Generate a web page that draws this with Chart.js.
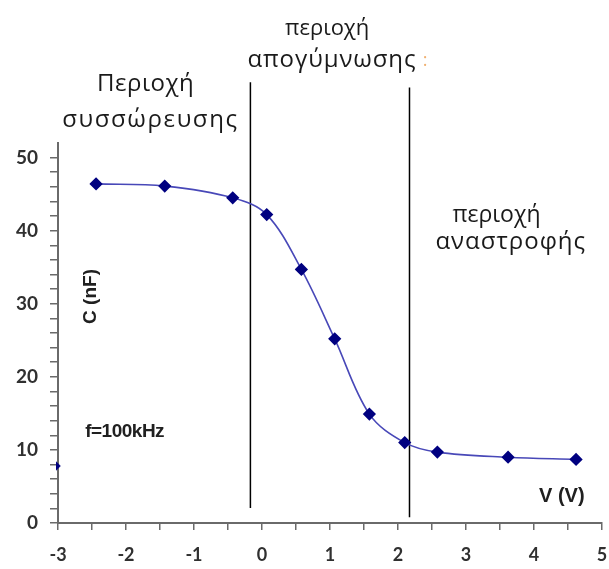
<!DOCTYPE html>
<html>
<head>
<meta charset="utf-8">
<script src="https://cdn.jsdelivr.net/npm/chart.js@4"></script>
<style>
  body { margin: 0; background: #fff; }
  canvas { display: block; }
</style>
</head>
<body>
<canvas id="cvChart" width="609" height="569"></canvas>
<script>
// Measured C-V curve (f = 100 kHz)
const voltage = [-2.44, -1.43, -0.43, 0.07, 0.58, 1.07, 1.58, 2.10, 2.58, 3.62, 4.62];
const capacitance = [46.4, 46.1, 44.5, 42.2, 34.7, 25.2, 14.9, 11.0, 9.7, 9.0, 8.7];

// stray point cut off at the left edge
const strayVoltage = [-3.04];
const strayCapacitance = [7.8];

// region boundaries (V) and their extent in C
const boundaryVoltage = [-0.17, 2.17];
const boundaryBottom = [2.05, 0.8];
const boundaryTop = [60.3, 59.6];

const xTicks = [-3, -2.5, -2, -1.5, -1, -0.5, 0, 0.5, 1, 1.5, 2, 2.5, 3, 3.5, 4, 4.5, 5];
const yTicks = [0, 2, 4, 6, 8, 10, 12, 14, 16, 18, 20, 22, 24, 26, 28, 30, 32, 34, 36, 38, 40, 42, 44, 46, 48, 50];

const regionLabels = ["Περιοχή", "συσσώρευσης", "περιοχή", "απογύμνωσης", "περιοχή", "αναστροφής"];
const yTitle = "C (nF)";
const xTitle = "V (V)";
const freqLabel = "f=100kHz";

const curve = voltage.map((v, i) => ({ x: v, y: capacitance[i] }));
const stray = strayVoltage.map((v, i) => ({ x: v, y: strayCapacitance[i] }));
const boundaries = boundaryVoltage.map((v, i) => ({
    data: [{ x: v, y: boundaryBottom[i] }, { x: v, y: boundaryTop[i] }],
    borderColor: "#000",
    borderWidth: 1.5,
    pointRadius: 0,
    showLine: true,
    clip: false,
}));

const greek = "'Open Sans', 'Noto Sans', sans-serif";
const boldFont = "'Liberation Sans', Arial, sans-serif";

// text annotations, placed in data coordinates
const notesPlugin = {
    id: "notes",
    afterDatasetsDraw(chart) {
        const { ctx, scales: { x, y } } = chart;
        const put = (text, vx, vy, font, color, spacing = 0, align = "center") => {
            ctx.font = font;
            ctx.fillStyle = color;
            ctx.textAlign = align;
            ctx.textBaseline = "middle";
            ctx.letterSpacing = spacing + "px";
            ctx.fillText(text, x.getPixelForValue(vx), y.getPixelForValue(vy));
            ctx.letterSpacing = "0px";
        };
        ctx.save();
        const txt = "#1a1a1a";
        put(regionLabels[0], -1.71, 60.1, `24px ${greek}`, txt, 0.5);
        put(regionLabels[1], -1.64, 55.1, `24px ${greek}`, txt, 1.6);
        put(regionLabels[2], 0.96, 67.6, `22px ${greek}`, txt);
        put(regionLabels[3], 1.03, 63.3, `24px ${greek}`, txt, 0.9);
        put(":", 2.40, 63.3, `18px ${greek}`, "#f0b070");
        put(regionLabels[4], 3.45, 42.1, `23px ${greek}`, txt);
        put(regionLabels[5], 3.66, 38.4, `24px ${greek}`, txt, 1);
        put(freqLabel, -2.6, 12.5, `bold 19px ${boldFont}`, "#202020", -0.5, "left");
        put(xTitle, 4.41, 3.6, `bold 20px ${boldFont}`, "#202020");

        ctx.translate(x.getPixelForValue(-2.52), y.getPixelForValue(31.0));
        ctx.rotate(-Math.PI / 2);
        ctx.font = `bold 19px ${boldFont}`;
        ctx.fillStyle = "#202020";
        ctx.textAlign = "center";
        ctx.textBaseline = "middle";
        ctx.fillText(yTitle, 0, 0);
        ctx.restore();
    },
};

new Chart(document.getElementById("cvChart"), {
    type: "scatter",
    data: {
        datasets: [
            {
                data: curve,
                showLine: true,
                tension: 0.35,
                borderColor: "#4848b8",
                borderWidth: 1.6,
                pointStyle: "rectRot",
                pointRadius: 5.5,
                pointBackgroundColor: "#000080",
                pointBorderColor: "#000080",
            },
            {
                data: stray,
                pointStyle: "rectRot",
                pointRadius: 5,
                pointBackgroundColor: "#000080",
                pointBorderColor: "#000080",
                clip: { left: 2, top: 0, right: 0, bottom: 0 },
            },
            ...boundaries,
        ],
    },
    options: {
        responsive: false,
        animation: false,
        layout: { padding: { top: 143, right: 6, left: 0, bottom: 0 } },
        plugins: { legend: { display: false }, tooltip: { enabled: false } },
        scales: {
            x: {
                type: "linear",
                min: -3,
                max: 5,
                afterBuildTicks: (scale) => { scale.ticks = xTicks.map((v) => ({ value: v })); },
                afterFit: (scale) => {
                    scale.height = 46;
                    scale.paddingRight = 0;
                    scale.paddingLeft = 0;
                },
                ticks: {
                    autoSkip: false,
                    maxRotation: 0,
                    padding: 14,
                    color: "#303030",
                    font: { family: "Lato, 'Liberation Sans', sans-serif", size: 18, weight: "bold" },
                    callback: (v) => (Number.isInteger(v) ? v : ""),
                },
                grid: { drawOnChartArea: false, tickLength: 7, color: "#6a6a6a", lineWidth: 1.5 },
                border: { color: "#6a6a6a", width: 2 },
            },
            y: {
                min: 0,
                max: 52,
                afterBuildTicks: (scale) => { scale.ticks = yTicks.map((v) => ({ value: v })); },
                afterFit: (scale) => { scale.width = 58; },
                ticks: {
                    autoSkip: false,
                    padding: 12,
                    color: "#303030",
                    font: { family: "Lato, 'Liberation Sans', sans-serif", size: 19, weight: "bold" },
                    callback: (v) => (v % 10 === 0 ? v : ""),
                },
                grid: { drawOnChartArea: false, tickLength: 8, color: "#6a6a6a", lineWidth: 1.5 },
                border: { color: "#6a6a6a", width: 2 },
            },
        },
    },
    plugins: [notesPlugin],
});
</script>
</body>
</html>
